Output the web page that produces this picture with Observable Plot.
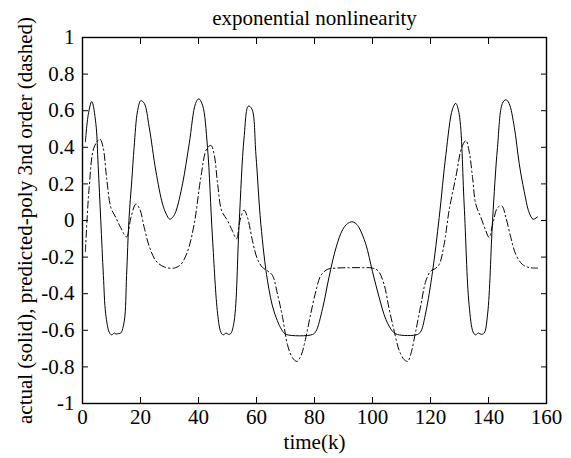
<!DOCTYPE html>
<html>
<head>
<meta charset="utf-8">
<script src="https://cdn.jsdelivr.net/npm/d3@7"></script>
<script src="https://cdn.jsdelivr.net/npm/@observablehq/plot@0.6"></script>
<style>
  html, body { margin: 0; padding: 0; background: white; }
  #chart svg, #chart svg text { font-family: "Liberation Serif", "Times New Roman", serif !important; }
</style>
</head>
<body>
<div id="chart"></div>
<script>
const titleText = "exponential nonlinearity";
const xLabel = "time(k)";
const yLabel = "actual (solid), predicted-poly 3nd order (dashed)";
const xTicks = [0, 20, 40, 60, 80, 100, 120, 140, 160];
const yTicks = [-1, -0.8, -0.6, -0.4, -0.2, 0, 0.2, 0.4, 0.6, 0.8, 1];

// actual (solid)
const actualK = [1, 2, 3.2, 4.6, 5.4, 6.3, 7.2, 8, 9.2, 10, 11, 11.5, 12.5, 13.2, 14.4, 15.2, 16, 17, 17.8, 19, 20.1, 21.3, 23, 25.3, 27.6, 28.9, 30.1, 31.2, 32.2, 34.5, 36.8, 39, 40.1, 41.4, 43.1, 44.8, 46.6, 47.7, 48.5, 49.5, 50.3, 51.1, 52.3, 54, 55.7, 57.2, 58.4, 59.8, 61.5, 63.8, 66.1, 69, 70.3, 79.3, 80.5, 82.8, 85, 87.4, 89.7, 91.4, 92.9, 94.3, 95.4, 97.7, 100, 102.3, 104.6, 106.9, 108.6, 115.5, 116.7, 118.4, 120.7, 123, 125.3, 127.6, 128.7, 129.9, 131.6, 133.3, 134.7, 135.5, 136.5, 137.5, 138.5, 139.7, 141.4, 143.1, 144.8, 146, 147.1, 148.9, 150.6, 152.3, 154, 155.4, 156.9];
const actualY = [0.43, 0.58, 0.65, 0.53, 0.3, 0.0, -0.3, -0.51, -0.61, -0.625, -0.615, -0.62, -0.618, -0.615, -0.55, -0.3, 0.0, 0.22, 0.4, 0.6, 0.655, 0.64, 0.51, 0.27, 0.09, 0.035, 0.007, 0.02, 0.05, 0.2, 0.42, 0.64, 0.665, 0.63, 0.4, -0.09, -0.51, -0.61, -0.625, -0.615, -0.622, -0.618, -0.55, -0.02, 0.45, 0.625, 0.61, 0.36, -0.02, -0.33, -0.5, -0.605, -0.623, -0.623, -0.605, -0.48, -0.31, -0.15, -0.05, -0.017, -0.007, -0.017, -0.04, -0.13, -0.28, -0.42, -0.54, -0.605, -0.623, -0.623, -0.605, -0.5, -0.28, 0.016, 0.36, 0.61, 0.64, 0.58, 0.09, -0.46, -0.61, -0.625, -0.615, -0.622, -0.615, -0.51, 0.0, 0.4, 0.64, 0.66, 0.64, 0.51, 0.31, 0.16, 0.044, 0.007, 0.02];

// predicted-poly 3rd order (dash-dot)
const predK = [1, 2.3, 4, 6, 7.1, 8.3, 9.8, 11.5, 13.2, 15.2, 16.7, 18.4, 19.8, 21.3, 23, 25.3, 28.2, 31.6, 33.9, 36.2, 38.5, 40.8, 42.8, 44.3, 45.4, 46.6, 48, 50, 51.7, 53.1, 54.3, 55.7, 56.9, 58.6, 60.3, 62.1, 63.8, 65.5, 67.2, 69, 70.7, 72.4, 73.9, 75.3, 77, 78.7, 80.5, 82.2, 84.5, 87.4, 92, 96.6, 100, 102, 104, 105.7, 107.5, 109.2, 110.9, 112.1, 113.2, 114.9, 116.7, 118.4, 120.1, 121.6, 123, 124.7, 126.4, 128.7, 130.8, 132.2, 133.3, 134.5, 135.6, 137.4, 139.1, 140.2, 141.6, 143.1, 144.6, 146, 147.7, 149.4, 151.7, 154, 156.9];
const predY = [-0.17, 0.18, 0.4, 0.445, 0.4, 0.235, 0.07, 0.016, -0.04, -0.09, 0.016, 0.09, 0.06, -0.04, -0.14, -0.22, -0.254, -0.26, -0.24, -0.17, -0.02, 0.235, 0.39, 0.41, 0.36, 0.2, 0.053, 0.0, -0.057, -0.1, 0.0, 0.057, 0.016, -0.11, -0.21, -0.257, -0.275, -0.3, -0.4, -0.53, -0.68, -0.75, -0.77, -0.74, -0.64, -0.51, -0.385, -0.3, -0.267, -0.26, -0.258, -0.258, -0.26, -0.276, -0.35, -0.48, -0.605, -0.71, -0.76, -0.77, -0.73, -0.605, -0.46, -0.33, -0.276, -0.263, -0.24, -0.13, 0.053, 0.235, 0.4, 0.437, 0.38, 0.235, 0.09, 0.016, -0.057, -0.093, -0.01, 0.07, 0.08, 0.016, -0.093, -0.185, -0.24, -0.257, -0.26];

const actual = actualK.map((k, i) => ({k, v: actualY[i]}));
const pred = predK.map((k, i) => ({k, v: predY[i]}));
const fmt = d => String(+(+d).toFixed(1));
const serif = "Liberation Serif";

const chart = Plot.plot({
  width: 571,
  height: 458,
  marginLeft: 82,
  marginRight: 25,
  marginTop: 37,
  marginBottom: 55,
  style: {fontFamily: serif, fontSize: "21px", background: "white", color: "black"},
  x: {domain: [0, 160]},
  y: {domain: [-1, 1]},
  marks: [
    Plot.axisX({ticks: xTicks, tickSize: -6, tickPadding: 12, tickFormat: d => String(d), label: null, fontFamily: serif}),
    Plot.axisX({anchor: "top", ticks: xTicks, tickSize: -6, tickFormat: () => "", label: null}),
    Plot.axisY({ticks: yTicks, tickSize: -6, tickPadding: 14, tickFormat: fmt, label: null, fontFamily: serif}),
    Plot.axisY({anchor: "right", ticks: yTicks, tickSize: -6, tickFormat: () => "", label: null}),
    Plot.line(actual, {x: "k", y: "v", stroke: "black", strokeWidth: 1, curve: "catmull-rom"}),
    Plot.line(pred, {x: "k", y: "v", stroke: "black", strokeWidth: 1, strokeDasharray: "7,3,1.5,3", curve: "catmull-rom"}),
    Plot.frame({stroke: "black", strokeWidth: 1.4}),
    Plot.text([titleText], {text: d => d, frameAnchor: "top", lineAnchor: "middle", textAnchor: "middle", dy: -19, fontFamily: serif}),
    Plot.text([xLabel], {text: d => d, frameAnchor: "bottom", lineAnchor: "middle", textAnchor: "middle", dy: 39, fontFamily: serif}),
    Plot.text([yLabel], {text: d => d, frameAnchor: "left", lineAnchor: "middle", textAnchor: "middle", dx: -57, rotate: -90, fontFamily: serif})
  ]
});
document.getElementById("chart").appendChild(chart);
</script>
</body>
</html>
